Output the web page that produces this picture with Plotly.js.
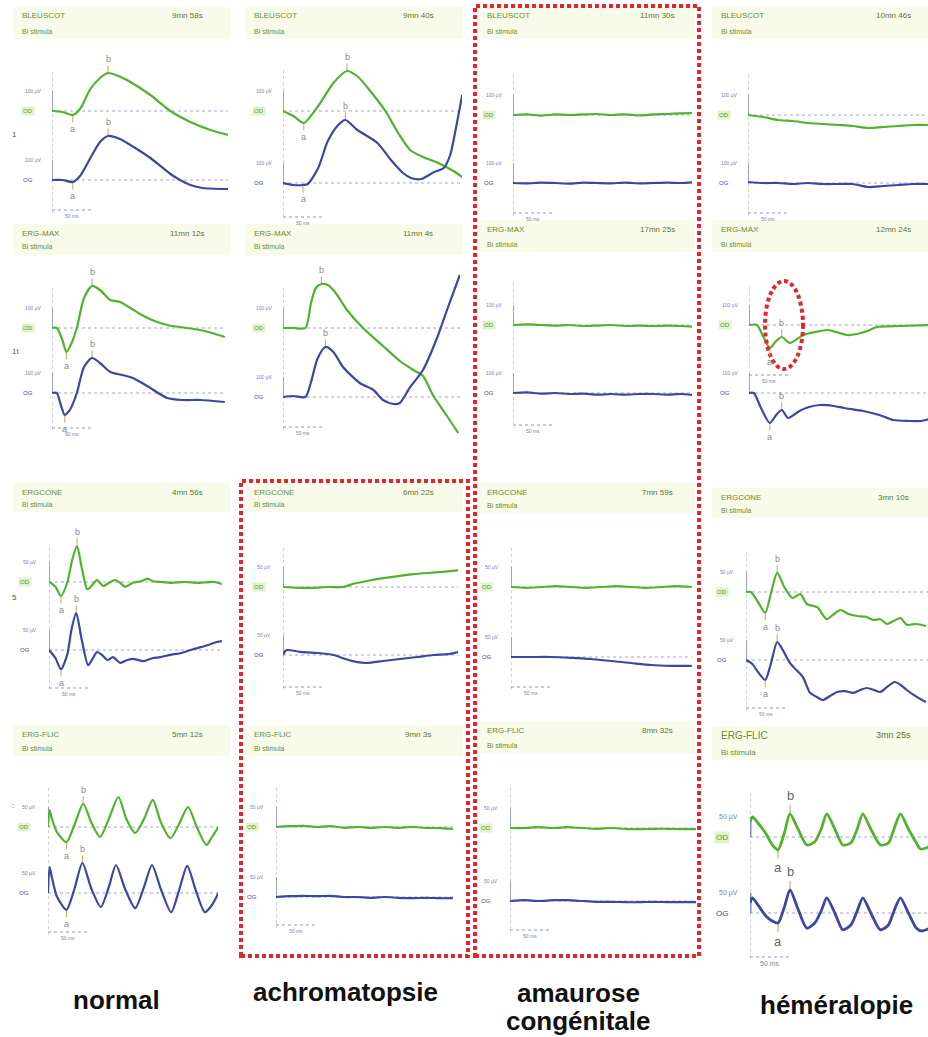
<!DOCTYPE html>
<html><head><meta charset="utf-8">
<script src="https://cdn.plot.ly/plotly-3.0.1.min.js"></script>
<style>html,body{margin:0;padding:0;background:#fff}#chart{width:928px;height:1037px}</style>
</head><body><div id="chart"></div>
<script>
// ---------------- DATA (time in ms, amplitude in µV) ----------------
const protocols = ['BLEUSCOT', 'ERG-MAX', 'ERGCONE', 'ERG-FLIC'];
const durations = [
  ['9mn 58s', '9mn 40s', '11mn 30s', '10mn 46s'],
  ['11mn 12s', '11mn 4s', '17mn 25s', '12mn 24s'],
  ['4mn 56s', '6mn 22s', '7mn 59s', '3mn 10s'],
  ['5mn 12s', '9mn 3s', '8mn 32s', '3mn 25s']
];
const subtitle = 'Bi stimula';
const columnLabels = ['normal', 'achromatopsie', 'amaurose<br>congénitale', 'héméralopie'];
const eyeLabels = ['OD', 'OG'];
const scaleUv = [100, 100, 50, 50];
const scaleUvLabels = ['100 µV', '100 µV', '50 µV', '50 µV'];
const scaleMs = 50;
const scaleMsLabel = '50 ms';
const rowMarks = ['1', '1t', '5', ':'];

// Row 1 — BLEUSCOT
const r1c1_od_t = [0,13,26,35,48,60,70,83,98,123,148,173,198,220];
const r1c1_od_uv = [0,-5,-20,10,110,165,190,175,145,80,0,-55,-95,-120];
const r1c1_og_t = [0,13,26,35,48,60,70,85,98,123,148,160,173,188,220];
const r1c1_og_uv = [0,0,-10,20,110,190,220,205,175,110,30,0,-25,-40,-45];

const r1c2_od_t = [0,13,26,44,63,80,94,105,128,144,159,175,194,213,224];
const r1c2_od_uv = [0,-25,-60,25,140,200,170,120,0,-110,-195,-230,-260,-300,-330];
const r1c2_og_t = [0,13,25,31,44,56,69,78,93,118,135,150,160,173,189,201,209,215,224];
const r1c2_og_uv = [0,-10,-10,-5,75,210,290,315,265,200,115,50,25,20,55,75,140,250,440];

const r1c3_t = [0,18,35,53,70,88,105,123,140,158,175,193,210,224];
const r1c3_od_uv = [0,3,-3,3,0,3,5,0,3,-2,3,5,8,10];
const r1c3_og_uv = [0,-2,2,0,-3,2,0,-2,2,-2,0,2,0,3];

const r1c4_t = [0,19,38,56,75,94,113,131,150,169,188,206,225];
const r1c4_od_uv = [0,-10,-25,-30,-40,-45,-50,-55,-65,-60,-55,-50,-50];
const r1c4_og_uv = [5,0,0,-5,0,-5,-5,-5,-20,-15,-10,-5,-5];

// Row 2 — ERG-MAX
const r2c1_od_t = [0,6,13,18,24,31,40,50,60,73,85,98,110,125,144,169,185,200,216];
const r2c1_od_uv = [0,0,-60,-120,-80,0,150,210,190,140,130,100,70,40,15,0,-10,-25,-45];
const r2c1_og_t = [0,6,11,16,23,31,40,50,60,73,88,101,119,144,163,185,216];
const r2c1_og_uv = [0,0,-60,-110,-80,0,130,175,150,105,90,75,35,-25,-35,-35,-45];

const r2c2_od_t = [0,13,28,35,41,48,56,65,80,100,125,146,163,175,188,205,219];
const r2c2_od_uv = [0,0,0,125,200,220,215,180,90,0,-90,-165,-210,-240,-340,-440,-525];
const r2c2_og_t = [0,13,28,35,43,53,63,75,96,113,125,138,146,159,175,193,205,221];
const r2c2_og_uv = [0,5,0,75,190,250,225,150,70,35,-15,-35,-30,50,135,300,435,610];

const r2c3_t = [0,18,35,53,70,88,105,123,140,158,175,193,210,224];
const r2c3_od_uv = [0,3,0,-3,0,-5,-3,0,-5,-3,-5,-3,-5,-8];
const r2c3_og_uv = [0,3,-3,0,-5,-3,-8,-5,-8,-5,-5,-8,-5,-10];

const r2c4_od_t = [0,10,18,26,34,41,51,68,83,98,113,123,135,148,160,188,225];
const r2c4_od_uv = [0,0,-60,-115,-80,-60,-90,-50,-35,-25,-40,-50,-45,-30,-10,-5,0];
const r2c4_og_t = [0,6,15,26,34,41,49,63,75,89,106,119,143,163,180,200,215,225];
const r2c4_og_uv = [0,0,-75,-150,-110,-85,-125,-90,-70,-60,-65,-75,-90,-110,-135,-140,-140,-130];

// Row 3 — ERGCONE
const r3c1_od_t = [0,8,15,23,29,35,41,48,54,60,68,75,83,89,95,105,115,123,130,140,153,169,188,206,216];
const r3c1_od_uv = [0,-12,-35,0,55,90,35,-18,-8,5,-10,-2,5,-2,-12,-2,2,8,2,0,-2,0,-2,0,-5];
const r3c1_og_t = [0,8,15,23,28,34,41,49,55,60,66,73,80,89,98,105,118,130,139,151,164,180,198,210,216];
const r3c1_og_uv = [0,-20,-48,-10,50,92,25,-38,-20,-5,-12,-25,-18,-32,-25,-22,-28,-20,-18,-12,-8,2,12,20,22];

const r3c2_od_t = [0,19,38,56,75,88,105,125,146,163,180,200,220];
const r3c2_od_uv = [0,-2,-2,0,0,8,15,22,28,32,35,38,42];
const r3c2_og_t = [0,4,21,43,63,78,93,105,125,146,168,188,206,220];
const r3c2_og_uv = [0,12,8,5,0,-10,-18,-20,-15,-10,-5,0,2,8];

const r3c3_od_t = [0,19,38,56,75,94,113,131,150,169,188,206,226];
const r3c3_od_uv = [0,-2,0,2,0,-2,0,2,0,-2,0,2,0];
const r3c3_og_t = [0,25,50,75,100,125,150,175,200,226];
const r3c3_og_uv = [0,0,0,-2,-5,-10,-15,-20,-22,-22];

const r3c4_od_t = [0,6,15,24,31,39,48,58,68,76,89,101,110,118,128,139,150,159,168,176,185,193,201,213,225];
const r3c4_od_uv = [0,0,-25,-52,-5,48,12,-15,-5,-30,-38,-68,-55,-45,-55,-60,-62,-70,-68,-80,-72,-65,-82,-80,-85];
const r3c4_og_t = [0,8,15,24,31,39,46,55,63,71,80,88,96,105,114,124,134,143,151,160,168,176,186,195,201,210,220,225];
const r3c4_og_uv = [0,-10,-30,-50,-10,45,25,-8,-25,-42,-82,-92,-100,-90,-80,-78,-82,-75,-70,-75,-80,-68,-55,-65,-75,-88,-100,-105];

// Row 4 — ERG-FLIC
const r4c1_od_t = [0,2,5,11,23,33,44,54,65,76,88,98,109,120,131,141,153,164,175,186,198,205,213];
const r4c1_od_uv = [0,42,20,-12,-38,5,58,12,-25,20,75,20,-15,20,68,12,-28,8,50,0,-45,-25,0];
const r4c1_og_t = [0,2,5,11,23,33,43,54,66,76,85,96,109,120,130,141,154,164,174,185,196,205,213];
const r4c1_og_uv = [0,65,38,-8,-42,10,75,12,-35,15,70,12,-38,15,70,10,-48,8,68,5,-48,-30,0];

const r4c2_t = [0,17,34,51,68,85,102,119,136,153,170,187,204,221];
const r4c2_od_uv = [0,2,3,0,2,-2,0,-2,0,-2,0,-2,-3,-5];
const r4c2_og_uv = [0,2,3,2,3,0,0,-2,0,-2,-3,-2,-3,-3];

const r4c3_t = [0,18,36,54,72,90,108,126,144,162,180,198,216,233];
const r4c3_od_uv = [0,0,2,0,2,0,-2,0,-2,-3,-2,-2,-3,-3];
const r4c3_og_uv = [0,2,0,2,2,0,-2,-2,-3,-3,-2,-3,-3,-3];

const r4c4_od_t = [0,3,10,20,28,35,43,50,60,71,81,89,96,106,116,126,134,141,151,163,173,180,188,198,208,213,223];
const r4c4_od_uv = [38,50,35,8,-20,-32,10,58,20,-20,-12,20,58,20,-20,-15,20,58,20,-20,-15,20,58,20,-15,-30,-25];
const r4c4_og_t = [0,3,10,20,28,35,43,50,60,71,81,89,96,106,116,126,134,141,151,163,173,180,188,198,208,215,225];
const r4c4_og_uv = [25,38,20,-8,-20,-25,15,58,10,-38,-25,5,38,0,-42,-30,5,38,0,-42,-30,5,38,0,-38,-45,-38];

const panelData = [
  [r1c1_od_t, r1c1_od_uv, r1c1_og_t, r1c1_og_uv],
  [r1c2_od_t, r1c2_od_uv, r1c2_og_t, r1c2_og_uv],
  [r1c3_t, r1c3_od_uv, r1c3_t, r1c3_og_uv],
  [r1c4_t, r1c4_od_uv, r1c4_t, r1c4_og_uv],
  [r2c1_od_t, r2c1_od_uv, r2c1_og_t, r2c1_og_uv],
  [r2c2_od_t, r2c2_od_uv, r2c2_og_t, r2c2_og_uv],
  [r2c3_t, r2c3_od_uv, r2c3_t, r2c3_og_uv],
  [r2c4_od_t, r2c4_od_uv, r2c4_og_t, r2c4_og_uv],
  [r3c1_od_t, r3c1_od_uv, r3c1_og_t, r3c1_og_uv],
  [r3c2_od_t, r3c2_od_uv, r3c2_og_t, r3c2_og_uv],
  [r3c3_od_t, r3c3_od_uv, r3c3_og_t, r3c3_og_uv],
  [r3c4_od_t, r3c4_od_uv, r3c4_og_t, r3c4_og_uv],
  [r4c1_od_t, r4c1_od_uv, r4c1_og_t, r4c1_og_uv],
  [r4c2_t, r4c2_od_uv, r4c2_t, r4c2_og_uv],
  [r4c3_t, r4c3_od_uv, r4c3_t, r4c3_og_uv],
  [r4c4_od_t, r4c4_od_uv, r4c4_og_t, r4c4_og_uv]
];

// a / b wave markers: [eye, letter, search window start ms, end ms]
const panelMarks = [
  [['od','a',0,40],['od','b',40,120],['og','a',0,35],['og','b',40,120]],
  [['od','a',0,40],['od','b',40,120],['og','a',20,30],['og','b',40,120]],
  [], [],
  [['od','a',0,30],['od','b',30,80],['og','a',0,30],['og','b',30,80]],
  [['od','b',20,100],['og','b',20,100]],
  [],
  [['od','a',0,35],['od','b',35,45],['og','a',0,35],['og','b',35,45]],
  [['od','a',0,25],['od','b',25,50],['og','a',0,25],['og','b',25,50]],
  [], [],
  [['od','a',0,30],['od','b',30,50],['og','a',0,30],['og','b',30,50]],
  [['od','a',15,35],['od','b',35,60],['og','a',15,35],['og','b',35,60]],
  [], [],
  [['od','a',20,40],['od','b',40,60],['og','a',20,40],['og','b',40,60]]
];

// ---------------- LAYOUT GEOMETRY (pixels) ----------------
const W = 928, H = 1037;
// [xLeft, xRight, domTop, domBottom, odBase, ogBase, scaleBarY, axisTop, headerY, subY]
const geom = [
  [52,228,60,218,111,180,210,72,16,31],
  [283,462,60,224,111,183,217,70,16,31],
  [513,692,60,216,115,183,213,75,16,31],
  [748,928,60,216,115,183,213,75,16,31],
  [52,225,270,432,328,393,428,288,233,247],
  [283,460,270,438,328,397,427,288,233,247],
  [513,692,270,434,325,393,425,283,229,244],
  [749,928,270,434,325,393,375,287,229,244],
  [49,222,530,694,582,650,688,548,492,504],
  [283,458,530,698,587,655,687,548,492,504],
  [511,692,530,698,587,657,687,548,492,505],
  [746,928,530,712,592,660,708,552,497,510],
  [48,218,776,936,827,893,932,788,734,748],
  [276,453,776,940,827,897,925,788,734,748],
  [510,696,776,944,828,901,930,788,730,745],
  [750,928,776,958,837,913,957,793,735,752]
];
const colL = [13,245,478,712], colR = [230,463,695,928], timeX = [187,418,657,893];
const labelX = [116,345,578,836], labelY = [1000,992,993,1005], labelLineGap = 28;
const rowMarkY = [128,352,597,812];

const GREEN = '#52b22e', BLUE = '#3d47a0';
const FONT = 'Liberation Sans, Arial, sans-serif';
const PY = y => 1 - y / H;
const axId = (p, n) => n === 1 ? p : p + n;
const axKey = (p, n) => p + 'axis' + (n === 1 ? '' : n);

const traces = [], shapes = [], annotations = [];
const layout = {
  width: W, height: H, margin: {l:0, r:0, t:0, b:0},
  paper_bgcolor: '#ffffff', plot_bgcolor: 'rgba(0,0,0,0)',
  showlegend: false, shapes, annotations
};

function pick(t, v, t0, t1, isMax) {
  let bi = -1;
  for (let j = 0; j < t.length; j++) {
    if (t[j] < t0 || t[j] > t1) continue;
    if (bi < 0 || (isMax ? v[j] > v[bi] : v[j] < v[bi])) bi = j;
  }
  return [t[bi], v[bi]];
}

geom.forEach((g, i) => {
  const [xL, xR, top, bot, od, og, sb, at, hy, sy] = g;
  const row = Math.floor(i / 4), col = i % 4;
  const k = row < 2 ? 5 : 2.5;      // µV per pixel
  const msPerPx = 1.25;             // ms per pixel
  const n = i + 1;
  const xn = axId('x', n), yo = axId('y', 2 * i + 1), yg = axId('y', 2 * i + 2);
  const T = (xR - xL) * msPerPx;
  const dom = [1 - bot / H, 1 - top / H];
  layout[axKey('x', n)] = {domain: [xL / W, xR / W], range: [0, T], visible: false, anchor: yo, fixedrange: true};
  layout[axKey('y', 2 * i + 1)] = {domain: dom, range: [-(bot - od) * k, (od - top) * k], visible: false, anchor: xn, fixedrange: true};
  layout[axKey('y', 2 * i + 2)] = {domain: dom, range: [-(bot - og) * k, (og - top) * k], visible: false, anchor: xn, overlaying: yo, fixedrange: true};

  // header band + texts
  shapes.push({type: 'rect', xref: 'paper', yref: 'paper', x0: colL[col] / W, x1: colR[col] / W,
    y0: PY(sy + 8), y1: PY(hy - 9), fillcolor: '#f8fbea', line: {width: 0}, layer: 'below'});
  const big = (i === 15);
  annotations.push({xref: 'paper', yref: 'paper', x: (colL[col] + 7) / W, y: PY(hy), text: protocols[row],
    showarrow: false, xanchor: 'left', yanchor: 'middle', font: {family: FONT, size: big ? 10 : 8, color: '#6b8a33'}});
  annotations.push({xref: 'paper', yref: 'paper', x: timeX[col] / W, y: PY(hy), text: durations[row][col],
    showarrow: false, xanchor: 'center', yanchor: 'middle', font: {family: FONT, size: big ? 9 : 8, color: '#5f7330'}});
  annotations.push({xref: 'paper', yref: 'paper', x: (colL[col] + 7) / W, y: PY(sy), text: subtitle,
    showarrow: false, xanchor: 'left', yanchor: 'middle', font: {family: FONT, size: big ? 8 : 7, color: '#6b8a33'}});

  // baselines
  [yo, yg].forEach(y => shapes.push({type: 'line', xref: xn, yref: y, x0: 0, x1: T, y0: 0, y1: 0,
    line: {color: '#a4a6d2', width: 1, dash: 'dot'}, layer: 'below'}));
  // vertical time-zero axis
  shapes.push({type: 'line', xref: xn, yref: 'paper', x0: 0, x1: 0, y0: PY(at), y1: PY(sb + 3),
    line: {color: '#9ea4d8', width: 1, dash: 'dot'}, layer: 'below'});
  // amplitude brackets
  [yo, yg].forEach(y => shapes.push({type: 'line', xref: xn, yref: y, x0: 0, x1: 0, y0: 0, y1: scaleUv[row],
    line: {color: '#7f88c8', width: big ? 3 : 1.5}, layer: 'below'}));
  // time scale bar
  shapes.push({type: 'line', xref: xn, yref: 'paper', x0: 0, x1: scaleMs, y0: PY(sb), y1: PY(sb),
    line: {color: '#8f96d0', width: 1, dash: 'dot'}, layer: 'below'});
  annotations.push({xref: xn, yref: 'paper', x: scaleMs / 2, y: PY(sb + 6), text: scaleMsLabel, showarrow: false,
    xanchor: 'center', yanchor: 'middle', font: {family: FONT, size: big ? 7 : 5, color: '#7a80b8'}});

  // eye and amplitude labels
  annotations.push({xref: xn, yref: yo, x: 0, y: 0, xshift: big ? -28 : -24, text: eyeLabels[0], showarrow: false,
    font: {family: FONT, size: big ? 8 : 6, color: '#4f9a2a'}, bgcolor: '#e2f3cc'});
  annotations.push({xref: xn, yref: yg, x: 0, y: 0, xshift: big ? -28 : -24, text: eyeLabels[1], showarrow: false,
    font: {family: FONT, size: big ? 8 : 6, color: '#3d4aa0'}});
  [yo, yg].forEach(y => annotations.push({xref: xn, yref: y, x: 0, y: scaleUv[row], xshift: big ? -22 : -19,
    text: scaleUvLabels[row], showarrow: false, font: {family: FONT, size: big ? 7 : 5, color: '#7a80b8'}}));

  // traces
  const [odT, odV, ogT, ogV] = panelData[i];
  traces.push({type: 'scatter', mode: 'lines', x: odT, y: odV, xaxis: xn, yaxis: yo, hoverinfo: 'skip',
    line: {color: GREEN, width: big ? 2.8 : 2.2, shape: 'spline', smoothing: 0.7}});
  traces.push({type: 'scatter', mode: 'lines', x: ogT, y: ogV, xaxis: xn, yaxis: yg, hoverinfo: 'skip',
    line: {color: BLUE, width: big ? 2.8 : 2.2, shape: 'spline', smoothing: 0.7}});

  // a / b markers
  panelMarks[i].forEach(([eye, letter, t0, t1]) => {
    const isOd = eye === 'od';
    const [mx, my] = pick(isOd ? odT : ogT, isOd ? odV : ogV, t0, t1, letter === 'b');
    annotations.push({xref: xn, yref: isOd ? yo : yg, x: mx, y: my, text: letter, showarrow: true,
      arrowhead: 0, arrowwidth: 1, arrowcolor: '#c9a25a', ax: 0, ay: letter === 'b' ? (big ? -18 : -14) : (big ? 18 : 14),
      standoff: 1, font: {family: FONT, size: big ? 13 : 9, color: big ? '#666' : '#8c8c8c'}});
  });
});

// row marks at far left
rowMarks.forEach((m, r) => annotations.push({xref: 'paper', yref: 'paper', x: 10 / W, y: PY(rowMarkY[r]),
  text: m, showarrow: false, font: {family: FONT, size: 8, color: '#555'}}));

// column labels (multi-line labels placed line by line)
columnLabels.forEach((lab, c) => lab.split('<br>').forEach((line, li) =>
  annotations.push({xref: 'paper', yref: 'paper', x: labelX[c] / W, y: PY(labelY[c] + li * labelLineGap),
    text: '<b>' + line + '</b>', showarrow: false, xanchor: 'center', yanchor: 'middle',
    font: {family: FONT, size: 26, color: '#111'}})));

// red dotted highlights
const RED = '#e3262b';
shapes.push({type: 'rect', xref: 'paper', yref: 'paper', x0: 475 / W, x1: 699 / W, y0: PY(956), y1: PY(6),
  line: {color: RED, width: 4, dash: '4px,3px'}, fillcolor: 'rgba(0,0,0,0)'});
shapes.push({type: 'rect', xref: 'paper', yref: 'paper', x0: 241 / W, x1: 468 / W, y0: PY(956), y1: PY(481),
  line: {color: RED, width: 4, dash: '4px,3px'}, fillcolor: 'rgba(0,0,0,0)'});
shapes.push({type: 'circle', xref: 'paper', yref: 'paper', x0: 765 / W, x1: 803 / W, y0: PY(369), y1: PY(281),
  line: {color: RED, width: 4, dash: '4px,3px'}, fillcolor: 'rgba(0,0,0,0)'});

Plotly.newPlot('chart', traces, layout, {staticPlot: true, displayModeBar: false});
</script></body></html>
